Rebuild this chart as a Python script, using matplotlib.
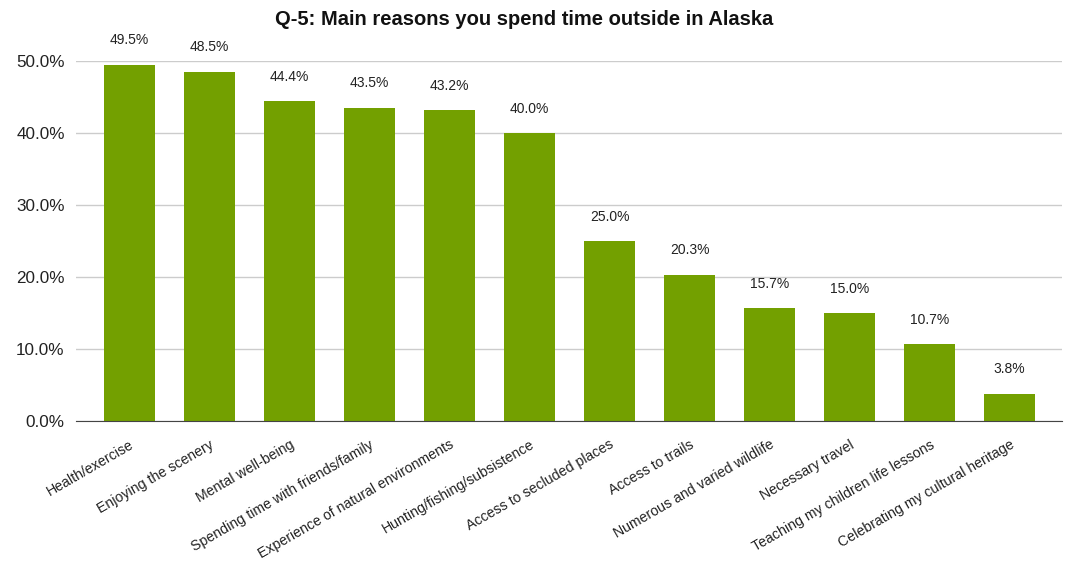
import matplotlib.pyplot as plt
import numpy as np

plt.rcParams['font.family'] = ['Liberation Sans', 'DejaVu Sans']

reasons = ['Health/exercise', 'Enjoying the scenery', 'Mental well-being',
           'Spending time with friends/family', 'Experience of natural environments',
           'Hunting/fishing/subsistence', 'Access to secluded places', 'Access to trails',
           'Numerous and varied wildlife', 'Necessary travel',
           'Teaching my children life lessons', 'Celebrating my cultural heritage']
pct = [49.5, 48.5, 44.4, 43.5, 43.2, 40.0, 25.0, 20.3, 15.7, 15.0, 10.7, 3.8]
yticks = [0, 10, 20, 30, 40, 50]

fig = plt.figure(figsize=(10.68, 5.65), dpi=100)
ax = fig.add_axes([0.071, 0.255, 0.923, 0.637])

x = np.arange(len(reasons))
bars = ax.bar(x, pct, width=0.64, color='#73a000', zorder=3)

for xi, v in zip(x, pct):
    ax.annotate(f'{v:.1f}%', (xi, v), xytext=(0, 12.5), textcoords='offset points',
                ha='center', va='bottom', fontsize=10, color='#222222', annotation_clip=False)

ax.set_xlim(-0.67, 11.65)
ax.set_ylim(0, 50)
ax.set_yticks(yticks)
ax.set_yticklabels([f'{t:.1f}%' for t in yticks], fontsize=12.3, color='#222222')
ax.grid(axis='y', color='#cccccc', linewidth=1, zorder=0)
ax.tick_params(axis='both', length=0)
ax.tick_params(axis='y', pad=8)
ax.set_xticks(x)
ax.set_xticklabels(reasons, rotation=30, ha='right', rotation_mode='anchor',
                   fontsize=10.2, color='#222222')
ax.tick_params(axis='x', pad=12)
for s in ['top', 'right', 'left']:
    ax.spines[s].set_visible(False)
ax.spines['bottom'].set_color('#444444')
ax.spines['bottom'].set_zorder(4)

fig.text(0.491, 0.965, 'Q-5: Main reasons you spend time outside in Alaska',
         ha='center', va='center', fontsize=14.5, fontweight='bold', color='#111111')

fig.savefig('out.png', dpi=100)
